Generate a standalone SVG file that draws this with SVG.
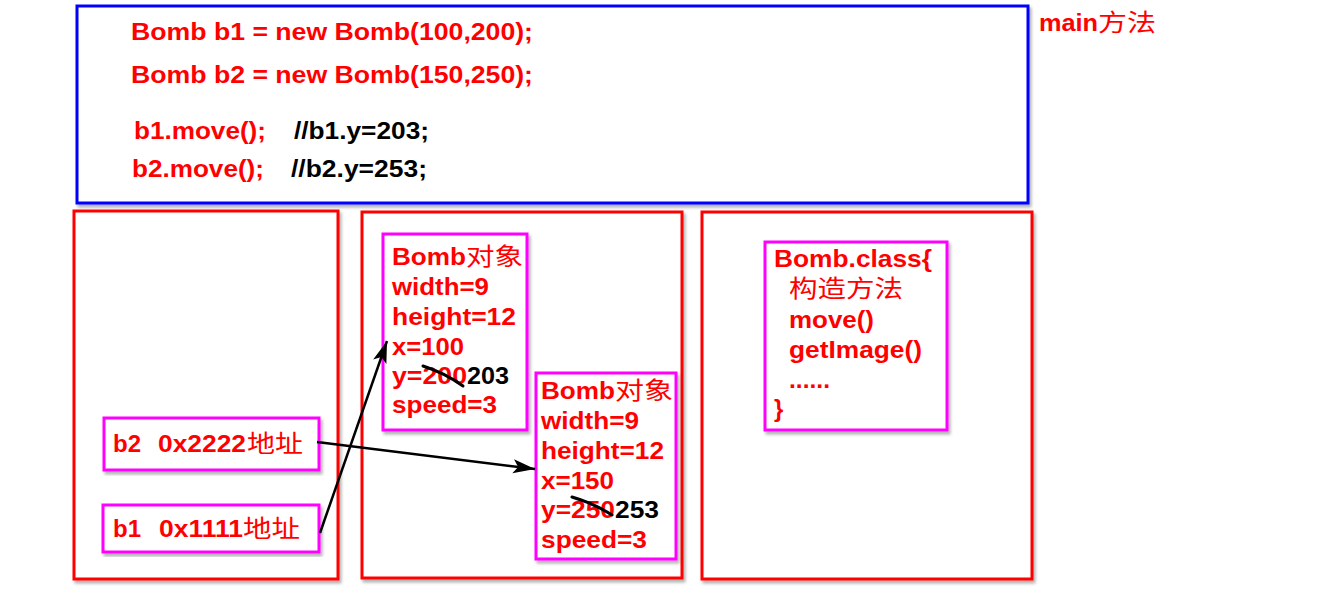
<svg xmlns="http://www.w3.org/2000/svg" width="1336" height="603" viewBox="0 0 1336 603">
<defs>
<filter id="sh" x="-10%" y="-10%" width="120%" height="120%">
<feDropShadow dx="2" dy="3" stdDeviation="1.5" flood-color="#000" flood-opacity="0.3"/>
</filter>
<marker id="arr" markerUnits="userSpaceOnUse" markerWidth="24" markerHeight="16" refX="22" refY="8" orient="auto">
<path d="M0,1 L22,8 L0,15 L5,8 Z" fill="#000"/>
</marker>
<style>
.blue{fill:#fff;stroke:#0000ff;stroke-width:3}
.red{fill:#fff;stroke:#ff0000;stroke-width:3}
.mag{fill:#fff;stroke:#ff00ff;stroke-width:3}
text{font-family:"Liberation Sans","Noto Sans CJK SC",sans-serif;font-size:24px;font-weight:bold;fill:#ff0000}
.k{fill:#000}
.cjk{font-family:"Noto Sans CJK SC","Liberation Sans",sans-serif;font-weight:normal}
.conn{stroke:#000;stroke-width:2.5;fill:none}
.strike{stroke:#000;stroke-width:3;fill:none;stroke-linecap:round}
</style>
</defs>
<rect width="1336" height="603" fill="#fff"/>

<g id="main-frame">
<rect class="blue" x="77" y="6" width="951" height="197" filter="url(#sh)"/>
<text x="131" y="40" textLength="402" lengthAdjust="spacingAndGlyphs">Bomb b1 = new Bomb(100,200);</text>
<text x="131" y="83" textLength="402" lengthAdjust="spacingAndGlyphs">Bomb b2 = new Bomb(150,250);</text>
<text x="134" y="139" textLength="132" lengthAdjust="spacingAndGlyphs">b1.move();</text>
<text class="k" x="294" y="139" textLength="135" lengthAdjust="spacingAndGlyphs">//b1.y=203;</text>
<text x="132" y="177" textLength="132" lengthAdjust="spacingAndGlyphs">b2.move();</text>
<text class="k" x="291" y="177" textLength="136" lengthAdjust="spacingAndGlyphs">//b2.y=253;</text>
</g>
<g id="main-label">
<text x="1039" y="31"><tspan textLength="59" lengthAdjust="spacingAndGlyphs">main</tspan><tspan class="cjk" x="1098" textLength="58" lengthAdjust="spacingAndGlyphs">方法</tspan></text>
</g>

<g id="stack">
<rect class="red" x="74" y="211" width="264" height="368" filter="url(#sh)"/>
</g>
<g id="heap">
<rect class="red" x="362" y="212" width="320" height="366" filter="url(#sh)"/>
</g>
<g id="method-area">
<rect class="red" x="702" y="212" width="330" height="367" filter="url(#sh)"/>
</g>

<g id="ref-b2">
<rect class="mag" x="104" y="418" width="215" height="52" filter="url(#sh)"/>
<text y="452"><tspan x="113">b2</tspan><tspan x="158" textLength="88" lengthAdjust="spacingAndGlyphs">0x2222</tspan><tspan class="cjk" x="247" textLength="56" lengthAdjust="spacingAndGlyphs">地址</tspan></text>
</g>
<g id="ref-b1">
<rect class="mag" x="103" y="505" width="216" height="47" filter="url(#sh)"/>
<text y="537"><tspan x="113">b1</tspan><tspan x="159" textLength="84" lengthAdjust="spacingAndGlyphs">0x1111</tspan><tspan class="cjk" x="243" textLength="57" lengthAdjust="spacingAndGlyphs">地址</tspan></text>
</g>

<g id="obj-b1">
<rect class="mag" x="383" y="234" width="144" height="196" filter="url(#sh)"/>
<text x="392" y="265"><tspan textLength="74" lengthAdjust="spacingAndGlyphs">Bomb</tspan><tspan class="cjk" x="466" textLength="57" lengthAdjust="spacingAndGlyphs">对象</tspan></text>
<text x="392" y="295" textLength="97" lengthAdjust="spacingAndGlyphs">width=9</text>
<text x="392" y="325" textLength="124" lengthAdjust="spacingAndGlyphs">height=12</text>
<text x="392" y="355" textLength="72" lengthAdjust="spacingAndGlyphs">x=100</text>
<text x="392" y="384" textLength="75" lengthAdjust="spacingAndGlyphs">y=200</text>
<text class="k" x="467" y="384" textLength="42" lengthAdjust="spacingAndGlyphs">203</text>
<path class="strike" d="M423,366 Q445,373 463,386"/>
<text x="392" y="413" textLength="105" lengthAdjust="spacingAndGlyphs">speed=3</text>
</g>

<g id="obj-b2">
<rect class="mag" x="536" y="373" width="140" height="186" filter="url(#sh)"/>
<text x="541" y="399"><tspan textLength="74" lengthAdjust="spacingAndGlyphs">Bomb</tspan><tspan class="cjk" x="615" textLength="58" lengthAdjust="spacingAndGlyphs">对象</tspan></text>
<text x="541" y="429" textLength="98" lengthAdjust="spacingAndGlyphs">width=9</text>
<text x="541" y="459" textLength="123" lengthAdjust="spacingAndGlyphs">height=12</text>
<text x="541" y="489" textLength="73" lengthAdjust="spacingAndGlyphs">x=150</text>
<text x="541" y="518" textLength="74" lengthAdjust="spacingAndGlyphs">y=250</text>
<text class="k" x="615" y="518" textLength="44" lengthAdjust="spacingAndGlyphs">253</text>
<path class="strike" d="M572,497 Q593,503 612,515"/>
<text x="541" y="548" textLength="106" lengthAdjust="spacingAndGlyphs">speed=3</text>
</g>

<g id="bomb-class">
<rect class="mag" x="765" y="242" width="182" height="188" filter="url(#sh)"/>
<text x="774" y="267" textLength="158" lengthAdjust="spacingAndGlyphs">Bomb.class{</text>
<text class="cjk" x="789" y="297" textLength="114" lengthAdjust="spacingAndGlyphs">构造方法</text>
<text x="789" y="328" textLength="85" lengthAdjust="spacingAndGlyphs">move()</text>
<text x="789" y="358" textLength="133" lengthAdjust="spacingAndGlyphs">getImage()</text>
<text x="789" y="388" textLength="41" lengthAdjust="spacingAndGlyphs">......</text>
<text x="774" y="417">}</text>
</g>

<g id="connectors">
<line class="conn" x1="317" y1="442" x2="535" y2="469" marker-end="url(#arr)"/>
<line class="conn" x1="320" y1="533" x2="387" y2="341" marker-end="url(#arr)"/>
</g>
</svg>
